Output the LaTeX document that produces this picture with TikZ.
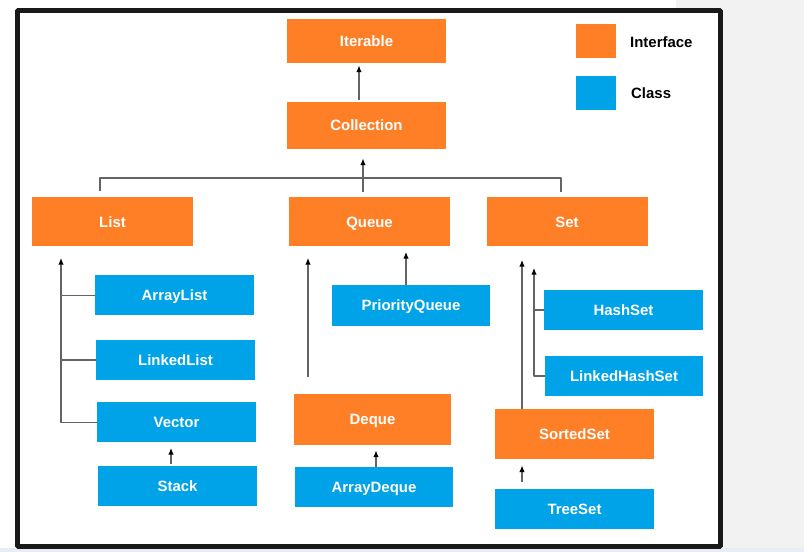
\documentclass[tikz,border=0pt]{standalone}
\usepackage{fontspec}
\setmainfont{Liberation Sans}
\usetikzlibrary{arrows.meta}
\definecolor{ifacecol}{RGB}{255,127,39}
\definecolor{classcol}{RGB}{0,162,232}
\definecolor{linkcol}{RGB}{100,100,100}
\begin{document}
\begin{tikzpicture}[>={Latex[black,length=7bp,width=5.5bp]},line join=bevel,
  box/.style={inner sep=0pt,text=white,text height=10.7bp,text depth=0pt,font=\bfseries\fontsize{15}{18}\selectfont},
  iface/.style={box,fill=ifacecol,minimum width=159bp,minimum height=49bp},
  klass/.style={box,fill=classcol,minimum width=159bp,minimum height=40bp},
  keybox/.style={inner sep=0pt,minimum width=40bp,minimum height=34bp},
  keytext/.style={anchor=west,inner sep=0pt,text height=10.7bp,text depth=0pt,font=\bfseries\fontsize{15}{18}\selectfont},
  link/.style={draw=linkcol,line width=1.8bp}]
\useasboundingbox (0bp,0bp) rectangle (804bp,552bp);
%%
\begin{scope}
  \definecolor{fillcol}{rgb}{0.95,0.95,0.95};
  \fill [fillcol] (676bp,0bp) rectangle (804bp,552bp);
  \definecolor{fillcol}{rgb}{0.91,0.93,0.96};
  \fill [fillcol] (0bp,0bp) rectangle (804bp,4bp);
\end{scope}
\begin{scope}
  \definecolor{strokecol}{rgb}{0.1,0.1,0.1};
  \filldraw [draw=strokecol,fill=white,line width=5bp] (17.5bp,5.5bp) rectangle (720bp,541.2bp);
\end{scope}
%% interfaces
  \node (iterable) at (366.5bp,511bp) [iface,minimum height=44bp] {Iterable};
  \node (collection) at (366.5bp,426.5bp) [iface,minimum height=47bp] {Collection};
  \node (list) at (112.5bp,330bp) [iface,minimum width=161bp] {List};
  \node (queue) at (369.5bp,330bp) [iface,minimum width=161bp] {Queue};
  \node (set) at (567bp,330bp) [iface,minimum width=161bp] {Set};
  \node (deque) at (372.5bp,132.5bp) [iface,minimum width=157bp,minimum height=51bp] {Deque};
  \node (sortedset) at (574.5bp,118bp) [iface,minimum height=50bp] {SortedSet};
%% classes
  \node (arraylist) at (174.5bp,256.5bp) [klass] {ArrayList};
  \node (linkedlist) at (175.5bp,192bp) [klass] {LinkedList};
  \node (vector) at (176.5bp,129.5bp) [klass] {Vector};
  \node (stack) at (177.5bp,65.5bp) [klass] {Stack};
  \node (pqueue) at (411bp,246.5bp) [klass,minimum width=158bp,minimum height=41bp] {PriorityQueue};
  \node (arraydeque) at (374bp,65bp) [klass,minimum width=158bp] {ArrayDeque};
  \node (hashset) at (623.5bp,242bp) [klass] {HashSet};
  \node (linkedhashset) at (624bp,176bp) [klass,minimum width=158bp] {LinkedHashSet};
  \node (treeset) at (574.5bp,42.5bp) [klass] {TreeSet};
%% legend
  \node (ifacekey) at (596bp,511bp) [keybox,fill=ifacecol] {};
  \node (classkey) at (596bp,458.5bp) [keybox,fill=classcol] {};
  \node (ifacelabel) at (630bp,510bp) [keytext] {Interface};
  \node (classlabel) at (631bp,459bp) [keytext] {Class};
%% links
  \coordinate (bus) at (363bp,374bp);
  \coordinate (lspine) at ([xshift=-51.5bp,yshift=-11bp]list.south);
  \coordinate (qspine) at ([xshift=-64.5bp,yshift=17bp]deque.north);
  \coordinate (hspine) at ([xshift=-33bp,yshift=-21bp]set.south);
  \draw [link,->] ([xshift=-7.5bp,yshift=2bp]collection.north) -- ([xshift=-7.5bp,yshift=-2bp]iterable.south);
  \draw [link] ([xshift=-12.5bp,yshift=6bp]list.north) |- (bus) -| ([xshift=-6bp,yshift=5bp]set.north);
  \draw [link,->] ([yshift=5.5bp]queue.north -| bus) -- ([yshift=-9bp]collection.south -| bus);
  \draw [link,->] (vector.west) -| (lspine);
  \draw [link] (arraylist.west) -- (arraylist.west -| lspine);
  \draw [link] (linkedlist.west) -- (linkedlist.west -| lspine);
  \draw [link,->] ([xshift=-6.5bp,yshift=2bp]stack.north) -- ([xshift=-5.5bp,yshift=-5bp]vector.south);
  \draw [link,->] (qspine) -- ([yshift=-11bp]queue.south -| qspine);
  \draw [link,->] ([xshift=-5bp]pqueue.north) -- ([xshift=36.5bp,yshift=-5bp]queue.south);
  \draw [link,->] ([xshift=2bp]arraydeque.north) -- ([xshift=3.5bp,yshift=-5bp]deque.south);
  \draw [link,->] ([xshift=-52.5bp]sortedset.north) -- ([xshift=-45bp,yshift=-13bp]set.south);
  \draw [link,->] (linkedhashset.west) -| (hspine);
  \draw [link] (hashset.west) -- (hashset.west -| hspine);
  \draw [link,->] ([xshift=-52.5bp,yshift=7bp]treeset.north) -- ([xshift=-52.5bp,yshift=-6bp]sortedset.south);
%
\end{tikzpicture}
\end{document}
